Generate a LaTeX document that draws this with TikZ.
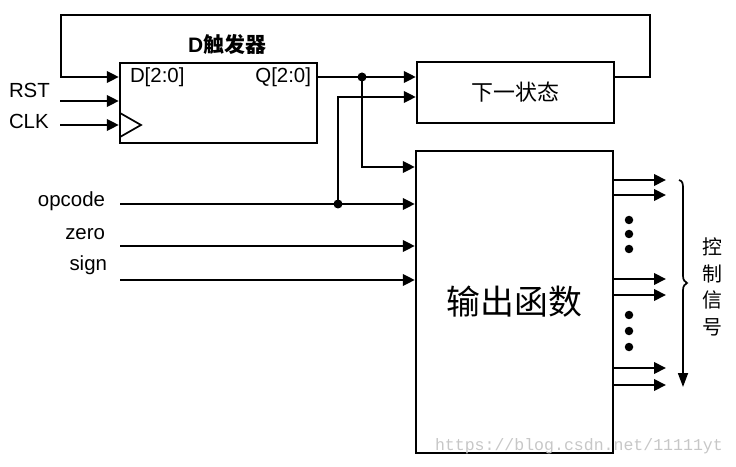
\documentclass[tikz,border=0pt]{standalone}
\usepackage{fontspec}
\setmainfont{Liberation Sans}
\newfontfamily\cjk{Noto Sans CJK SC}
\newfontfamily\wmfont{Liberation Mono}
\usetikzlibrary{arrows.meta}
\begin{document}
\begin{tikzpicture}[x=1bp,y=-1bp, line width=2bp,
  box/.style={draw, line width=2.4bp, inner sep=0pt, minimum width=197bp},
  arr/.style={-{Triangle[length=12bp,width=11.5bp]}},
  lbl/.style={font=\fontsize{20.5}{24}\selectfont, inner sep=0pt},
  jdot/.style={fill, circle, inner sep=0pt, minimum size=9bp},
  vdot/.style={fill, circle, inner sep=0pt, minimum size=8.5bp},
]
\useasboundingbox (0,0) rectangle (736,467);

% boxes
\node[box, minimum height=80bp] (dff) at (218.5,103) {};
\node[box, minimum height=61bp, font=\cjk\fontsize{22}{26}\selectfont] (next) at (515.5,92.5) {下一状态};
\node[box, minimum height=302bp, font=\cjk\fontsize{34}{40}\selectfont] (out) at (514.5,302) {输出函数};

% labels
\node[font=\fontsize{21}{25}\selectfont\bfseries] (title) at (227,44) {D{\cjk\bfseries 触发器}};
\node[lbl, anchor=west] (dlab) at (129,77) {D[2:0]};
\node[lbl, anchor=east] (qlab) at (312,77) {Q[2:0]};
\node[lbl, anchor=west] (rstl) at (8,90) {RST};
\node[lbl, anchor=west] (clkl) at (8,121) {CLK};
\node[lbl, anchor=east] (opl) at (106,201) {opcode};
\node[lbl, anchor=east] (zl) at (106,234) {zero};
\node[lbl, anchor=east] (sl) at (108,265) {sign};
\node[font=\cjk\fontsize{20}{26.5}\selectfont, align=center, inner sep=0pt] (ctl) at (712,287) {控\\制\\信\\号};

% coordinates
\coordinate (din) at (61,77);
\coordinate (fb1) at (650,15);
\coordinate (fb2) at (61,15);
\coordinate (rst) at (60,101);
\coordinate (clk) at (60,125);
\coordinate (qj) at (362,77);
\coordinate (oj) at (338,204);
\coordinate (opc) at (120,204);
\coordinate (zr) at (120,246);
\coordinate (sg) at (120,280);
\coordinate (n2) at (338,97);
\coordinate (o1) at (362,167);
\coordinate (ck1) at (120,113);
\coordinate (ck2) at (141,125);
\coordinate (ck3) at (120,137);

% feedback loop
\draw[arr] (next.east |- din) -| (fb1) -- (fb2) |- (dff.west |- din);
% RST, CLK
\draw[arr] (rst) -- (dff.west |- rst);
\draw[arr] (clk) -- (dff.west |- clk);
\draw[line width=1.7bp] (ck1) -- (ck2) -- (ck3);
% Q output
\draw (dff.east |- qj) -- (qj);
\draw[arr] (qj) -- (next.west |- qj);
\draw[arr] (qj) |- (out.west |- o1);
\node[jdot] (qdot) at (qj) {};
% inputs
\draw[arr] (opc) -- (out.west |- opc);
\draw[arr] (oj) |- (next.west |- n2);
\node[jdot] (odot) at (oj) {};
\draw[arr] (zr) -- (out.west |- zr);
\draw[arr] (sg) -- (out.west |- sg);

% outputs
\foreach \i/\yy in {1/180,2/195,3/279,4/295,5/368,6/385}{
  \coordinate (r\i) at (666,\yy);
  \draw[arr] (out.east |- r\i) -- (r\i);
}
\foreach \yy in {220,234,249,315,331,347}{
  \node[vdot] at (629,\yy) {};
}

% brace with arrow
\draw[line width=1.7bp, -{Triangle[length=14bp,width=10bp]}]
  (679,180) .. controls (683,181) and (683,184) .. (683,190) -- (683,276)
  .. controls (683,280) and (685,282) .. (687,283)
  .. controls (685,284) and (683,286) .. (683,290) -- (683,387);

% watermark
\node[font=\wmfont\fontsize{16.6}{20}\selectfont, text=black!22, anchor=west, inner sep=0pt] (wm) at (434,446) {https://blog.csdn.net/11111yt};
\end{tikzpicture}
\end{document}
